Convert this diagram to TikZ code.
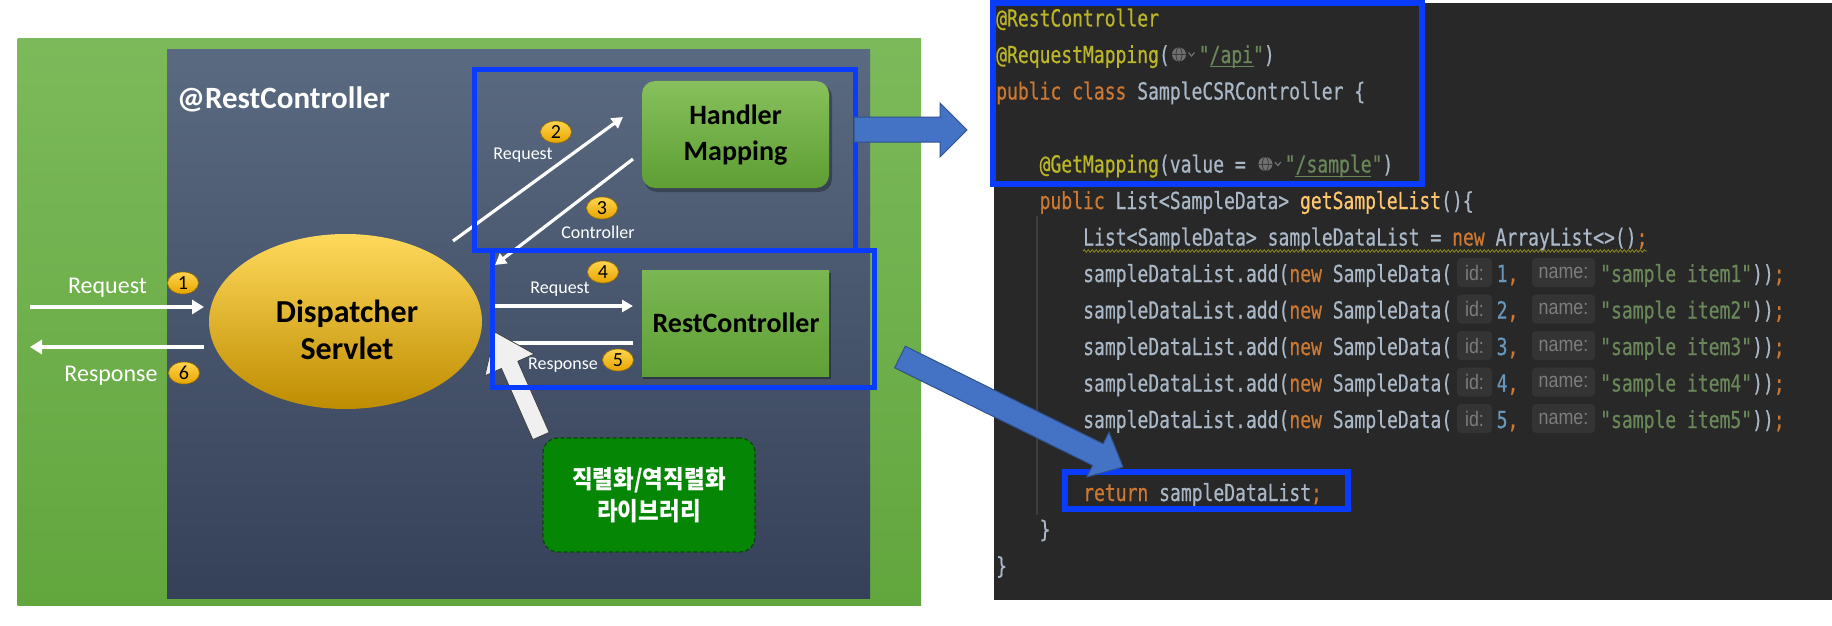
\documentclass[tikz,border=0pt]{standalone}
\usepackage{fontspec}
\usetikzlibrary{arrows.meta,shapes.geometric,decorations.pathmorphing}
\newfontfamily\carl{Carlito}
\newfontfamily\codefont[FakeStretch=0.767,FakeBold=0.6,Ligatures=TeXOff]{DejaVu Sans Mono}
\newfontfamily\hintfont[FakeStretch=0.85]{Liberation Sans}
\newfontfamily\kr[FakeStretch=0.9]{Noto Sans CJK KR}
\definecolor{gtop}{RGB}{124,185,90}
\definecolor{gbot}{RGB}{98,166,62}
\definecolor{ptop}{RGB}{90,106,129}
\definecolor{pbot}{RGB}{53,65,88}
\definecolor{hmtop}{RGB}{135,192,92}
\definecolor{hmbot}{RGB}{94,158,52}
\definecolor{rctop}{RGB}{122,182,82}
\definecolor{rcbot}{RGB}{96,160,56}
\definecolor{dstop}{RGB}{255,217,92}
\definecolor{dsmid}{RGB}{255,194,14}
\definecolor{dsbot}{RGB}{190,140,0}
\definecolor{numt}{RGB}{255,213,79}
\definecolor{numb}{RGB}{230,165,0}
\definecolor{numd}{RGB}{150,110,0}
\definecolor{bluec}{RGB}{10,60,255}
\definecolor{barrow}{RGB}{68,114,196}
\definecolor{barrowd}{RGB}{47,82,143}
\definecolor{libg}{RGB}{5,135,5}
\definecolor{libd}{RGB}{10,70,10}
\definecolor{warrow}{RGB}{240,240,240}
\definecolor{codebg}{RGB}{40,40,40}
\definecolor{cdef}{RGB}{169,183,198}
\definecolor{cann}{RGB}{187,181,41}
\definecolor{ckw}{RGB}{204,120,50}
\definecolor{cstr}{RGB}{106,135,89}
\definecolor{cnum}{RGB}{104,151,187}
\definecolor{cfn}{RGB}{255,198,109}
\definecolor{hintbg}{RGB}{52,52,52}
\definecolor{hinttx}{RGB}{125,125,125}
\definecolor{guidec}{RGB}{62,62,62}
\definecolor{iconc}{RGB}{112,112,112}
\definecolor{icond}{RGB}{60,60,60}
\newcommand\cA[1]{\textcolor{cann}{#1}}
\newcommand\cK[1]{\textcolor{ckw}{#1}}
\newcommand\cS[1]{\textcolor{cstr}{#1}}
\newcommand\cN[1]{\textcolor{cnum}{#1}}
\newcommand\cF[1]{\textcolor{cfn}{#1}}
\newcommand\globeicon[2]{%
 \fill[iconc] (#1+9,#2-8.5) circle (7pt);
 \draw[icond,line width=0.8pt] (#1+9,#2-8.5) ellipse (3pt and 7pt);
 \draw[icond,line width=0.8pt] (#1+2,#2-8.5) -- (#1+16,#2-8.5);
 \draw[iconc,line width=1.2pt] (#1+18.5,#2-10.5) -- (#1+21.5,#2-7) -- (#1+24.5,#2-10.5);}
\tikzset{
 lbl/.style={anchor=base, inner sep=0pt, text=white, font=\carl\fontsize{18}{20}\selectfont},
 lblbig/.style={lbl, font=\carl\fontsize{24}{26}\selectfont},
 numc/.style={ellipse, minimum width=31pt, minimum height=22pt, inner sep=0pt, draw=numd, line width=0.6pt, top color=numt, bottom color=numb, font=\carl\fontsize{20}{20}\selectfont, text=black},
 flow/.style={draw=white, line width=4.5pt, -{Triangle[length=12pt,width=14pt]}},
 flowd/.style={draw=white, line width=3.2pt, -{Triangle[length=11pt,width=12pt]}},
 bluebox/.style={draw=bluec, line width=5pt},
 code/.style={anchor=base west, inner sep=0pt, text=cdef, font=\codefont\fontsize{23.5}{28}\selectfont},
 hint/.style={fill=hintbg, rounded corners=4pt, minimum height=29pt, inner sep=0pt, text=hinttx, font=\hintfont\fontsize{21}{21}\selectfont},
 blockarrow/.style={fill=barrow, draw=barrowd, line width=1pt, line join=miter},
}
\begin{document}
\begin{tikzpicture}[x=1pt,y=-1pt]
\useasboundingbox (0,0) rectangle (1832,626);
\fill[white] (0,0) rectangle (1832,626);
% left diagram
\shade[top color=gtop,bottom color=gbot] (17.5,38.5) rectangle (921,605);
\shade[top color=ptop,bottom color=pbot] (167,50) rectangle (870,598);
\node[anchor=base west, inner sep=0pt, text=white, font=\carl\bfseries\fontsize{31}{31}\selectfont] (title) at (177,108) {@RestController};
% handler mapping
\fill[black,opacity=0.3,rounded corners=13pt] (644,84) rectangle (832,192);
\node[rounded corners=13pt, minimum width=187pt, minimum height=107pt, top color=hmtop, bottom color=hmbot, inner sep=0pt] (hm) at (735.5,134.5) {};
\node[font=\carl\bfseries\fontsize{28}{36}\selectfont, align=center, text=black, inner sep=0pt] (hmt) at (735.5,135) {Handler\\Mapping};
% rest controller
\fill[black,opacity=0.35] (643,273) rectangle (831,379);
\node[minimum width=187pt, minimum height=106pt, top color=rctop, bottom color=rcbot, inner sep=0pt] (rc) at (735.5,323) {};
\node[font=\carl\bfseries\fontsize{28}{34}\selectfont, text=black, inner sep=0pt] (rct) at (736,323) {RestController};
% dispatcher
\node[ellipse, minimum width=273pt, minimum height=175pt, top color=dstop, middle color=dsmid, bottom color=dsbot, inner sep=0pt] (ds) at (345.5,321.5) {};
\node[font=\carl\bfseries\fontsize{32}{37}\selectfont, align=center, text=black, inner sep=0pt] (dst) at (347,330) {Dispatcher\\Servlet};
% outer arrows
\coordinate (r1s) at (30,307); \coordinate (r1e) at (204,307);
\coordinate (r6s) at (204,347); \coordinate (r6e) at (30,347);
\draw[flow] (r1s) -- (r1e);
\draw[flow] (r6s) -- (r6e);
\node[lblbig] (lreq) at (107.5,293) {Request};
\node[lblbig] (lres) at (111,381) {Response};
\node[numc] (n1) at (183,283) {1};
\node[numc] (n6) at (184,373) {6};
% inner arrows
\coordinate (a2s) at (453,241); \coordinate (a2e) at (623,117);
\coordinate (a3s) at (633,159); \coordinate (a3e) at (495,265);
\coordinate (a4s) at (495,306); \coordinate (a4e) at (633,306);
\coordinate (a5s) at (633,343); \coordinate (a5e) at (503,343);
\draw[flowd] (a2s) -- (a2e);
\draw[flowd] (a3s) -- (a3e);
\draw[flowd] (a4s) -- (a4e);
\draw[draw=white, line width=3.2pt] (a5s) -- (a5e);
\node[lbl] (l2) at (523,159) {Request};
\node[lbl] (l3) at (598,238) {Controller};
\node[lbl] (l4) at (560,293) {Request};
\node[lbl] (l5) at (563,369) {Response};
\node[numc] (n2) at (556,132) {2};
\node[numc] (n3) at (602,208) {3};
\node[numc] (n4) at (603,272) {4};
\node[numc] (n5) at (618,360) {5};
% white block arrow
\filldraw[fill=warrow, draw=black!75, line width=0.8pt, line join=miter] (549.2,432.4) -- (517.8,361.3) -- (534.3,354) -- (495,332) -- (484.9,375.8) -- (501.4,368.5) -- (532.8,439.6) -- cycle;
% library box
\node[rounded corners=15pt, minimum width=212pt, minimum height=114pt, fill=libg, draw=libd, dash pattern=on 4pt off 2.5pt, line width=1.2pt, text=white, font=\kr\bfseries\fontsize{25}{32}\selectfont, align=center, inner sep=0pt] (lib) at (649,495) {직렬화/역직렬화\\라이브러리};
% highlight boxes
\draw[bluebox] (474.5,69.5) rectangle (855.5,250.5);
\draw[bluebox] (492.5,250.5) rectangle (874.5,387.5);
% code panel
\fill[codebg] (994,3) rectangle (1832,600);
\draw[guidec, line width=1.2pt] (1037,216) -- (1037,515);
\node[code] (c0) at (996,26.5) {\cA{@RestController}};
\node[code] (c1a) at (996,63) {\cA{@RequestMapping}(};
\globeicon{1170}{63}
\node[code] (c1b) at (1198.6,63) {\cS{"/api"})};
\draw[cstr, line width=1pt] (1209.5,67) -- (1253.5,67);
\node[code] (c2) at (996,99.5) {\cK{public class} SampleCSRController \{};
\node[code] (c4a) at (1039.4,172.5) {\cA{@GetMapping}(value =};
\globeicon{1256.4}{172.5}
\node[code] (c4b) at (1284.6,172.5) {\cS{"/sample"})};
\draw[cstr, line width=1pt] (1295.4,176.5) -- (1371.4,176.5);
\node[code] (c5) at (1039.4,209) {\cK{public} List<SampleData> \cF{getSampleList}()\{};
\node[code] (c6) at (1083,245.5) {List<SampleData> sampleDataList = \cK{new} ArrayList<>()\cK{;}};
\draw[cann!75!black, line width=0.8pt, decorate, decoration={snake, amplitude=1.3pt, segment length=4pt}] (1083,251) -- (1647,251);
\foreach \k in {1,...,5}{
 \pgfmathsetmacro\yb{245.5+36.5*\k}
 \pgfmathsetmacro\yh{\yb-9.5}
 \node[code] (a\k) at (1083,\yb) {sampleDataList.add(\cK{new} SampleData(};
 \node[hint, minimum width=35pt] (h\k) at (1474.5,\yh) {id:};
 \node[code] (v\k) at (1496.5,\yb) {\cN{\k}\cK{,}};
 \node[hint, minimum width=63pt] (m\k) at (1563.5,\yh) {name:};
 \node[code] (s\k) at (1600,\yb) {\cS{"sample item\k"}))\cK{;}};
}
\node[code] (c13) at (1083,501) {\cK{return} sampleDataList\cK{;}};
\node[code] (c14) at (1039.4,537.5) {\}};
\node[code] (c15) at (996,574) {\}};
\draw[bluec, line width=6pt] (993,3) rectangle (1422,184);
\draw[bluec, line width=6pt] (1065,472) rectangle (1348,509);
% blue block arrows
\filldraw[blockarrow] (854,117) -- (940,117) -- (940,103) -- (967,130) -- (940,157) -- (940,142) -- (854,142) -- cycle;
\filldraw[blockarrow] (905.3,346.2) -- (1103.2,443.8) -- (1109,432.2) -- (1123,467) -- (1086.8,477) -- (1092.6,465.4) -- (894.7,367.8) -- cycle;
\end{tikzpicture}
\end{document}
